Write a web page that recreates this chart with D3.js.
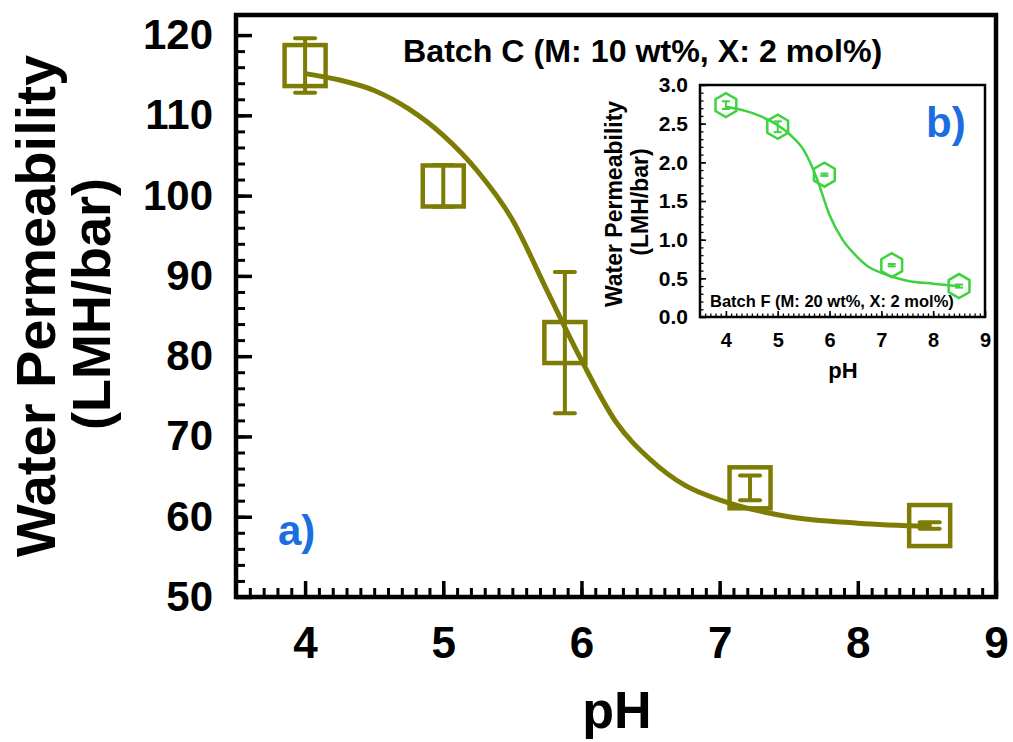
<!DOCTYPE html>
<html>
<head>
<meta charset="utf-8">
<script src="https://cdn.jsdelivr.net/npm/d3@7/dist/d3.min.js"></script>
<style>
  html, body { margin: 0; padding: 0; background: #fff; }
  svg text { font-family: "Liberation Sans", Arial, sans-serif; font-weight: bold; }
</style>
</head>
<body>
<svg id="chart" width="1013" height="742"></svg>
<script>
// ---- Batch C (main panel) ----
const phMain = [4.0, 5.0, 5.88, 7.22, 8.52];
const permMain = [116.2, 101.2, 81.7, 63.6, 58.9];
const errMain = [3.4, 2.6, 8.8, 1.55, 0.4];
// fitted trend line, sampled along pH
const fitPhMain = [4, 4.25, 4.5, 4.75, 5, 5.25, 5.5, 5.75, 6, 6.25, 6.5, 6.75, 7, 7.5, 8, 8.52];
const fitMain = [115.2, 114.4, 113.1, 110.8, 107.5, 103.0, 97.0, 88.2, 79.5, 71.8, 67.1, 63.9, 62.1, 60.0, 59.2, 58.8];
const xTicksMain = [4, 5, 6, 7, 8, 9];
const yTicksMain = [50, 60, 70, 80, 90, 100, 110, 120];

// ---- Batch F (inset) ----
const phInset = [4.0, 5.0, 5.9, 7.2, 8.5];
const permInset = [2.74, 2.46, 1.84, 0.67, 0.40];
const errInset = [0.05, 0.07, 0.015, 0.015, 0.02];
const fitPhInset = [4, 4.5, 5, 5.25, 5.5, 5.75, 6, 6.25, 6.5, 6.75, 7, 7.5, 8, 8.5];
const fitInset = [2.72, 2.64, 2.48, 2.35, 2.16, 1.80, 1.32, 1.00, 0.80, 0.65, 0.57, 0.47, 0.43, 0.40];
const xTicksInset = [4, 5, 6, 7, 8, 9];
const yTicksInset = [0.0, 0.5, 1.0, 1.5, 2.0, 2.5, 3.0];

const olive = "#7d7d05";
const green = "#3fd23f";
const blue = "#1a6ee0";

const svg = d3.select("#chart");
svg.append("rect").attr("width", 1013).attr("height", 742).attr("fill", "#fff");

// ================= main panel =================
const M = { left: 236, right: 996, top: 15, bottom: 597 };
const x = d3.scaleLinear().domain([3.5, 9]).range([M.left, M.right]);
const y = d3.scaleLinear().domain([50, 122.5]).range([M.bottom, M.top]);

const main = svg.append("g");

// minor ticks
main.append("g")
  .attr("transform", `translate(0,${M.bottom})`)
  .call(d3.axisBottom(x).tickValues(d3.range(36, 90, 1).map(v => v / 10)).tickSizeInner(-9).tickSizeOuter(0).tickFormat(""))
  .call(g => g.select(".domain").remove())
  .call(g => g.selectAll("line").attr("stroke", "#000").attr("stroke-width", 3));
main.append("g")
  .attr("transform", `translate(${M.left},0)`)
  .call(d3.axisLeft(y).tickValues(d3.range(52, 122, 2)).tickSizeInner(-9).tickSizeOuter(0).tickFormat(""))
  .call(g => g.select(".domain").remove())
  .call(g => g.selectAll("line").attr("stroke", "#000").attr("stroke-width", 3));

// major ticks with labels
main.append("g")
  .attr("transform", `translate(0,${M.bottom})`)
  .call(d3.axisBottom(x).tickValues(xTicksMain).tickSizeInner(-16).tickSizeOuter(0).tickPadding(30).tickFormat(d3.format("d")))
  .call(g => g.select(".domain").remove())
  .call(g => g.selectAll("line").attr("stroke", "#000").attr("stroke-width", 3.5))
  .call(g => g.selectAll("text").attr("fill", "#000").attr("font-size", 44));
main.append("g")
  .attr("transform", `translate(${M.left},0)`)
  .call(d3.axisLeft(y).tickValues(yTicksMain).tickSizeInner(-16).tickSizeOuter(0).tickPadding(23).tickFormat(d3.format("d")))
  .call(g => g.select(".domain").remove())
  .call(g => g.selectAll("line").attr("stroke", "#000").attr("stroke-width", 3.5))
  .call(g => g.selectAll("text").attr("fill", "#000").attr("font-size", 42));

// frame
main.append("rect")
  .attr("x", M.left).attr("y", M.top)
  .attr("width", M.right - M.left).attr("height", M.bottom - M.top)
  .attr("fill", "none").attr("stroke", "#000").attr("stroke-width", 4.5);

// fitted curve
main.append("path")
  .datum(fitPhMain.map((p, i) => [p, fitMain[i]]))
  .attr("d", d3.line().x(d => x(d[0])).y(d => y(d[1])).curve(d3.curveMonotoneX))
  .attr("fill", "none").attr("stroke", olive).attr("stroke-width", 5);

// error bars
const mainPts = phMain.map((p, i) => ({ p, v: permMain[i], e: errMain[i] }));
const eb = main.append("g").attr("stroke", olive).attr("stroke-width", 4);
eb.selectAll("line.v").data(mainPts).join("line").attr("class", "v")
  .attr("x1", d => x(d.p)).attr("x2", d => x(d.p))
  .attr("y1", d => y(d.v + d.e)).attr("y2", d => y(d.v - d.e));
eb.selectAll("line.t").data(mainPts).join("line").attr("class", "t")
  .attr("x1", d => x(d.p) - 10).attr("x2", d => x(d.p) + 10)
  .attr("y1", d => y(d.v + d.e)).attr("y2", d => y(d.v + d.e)).attr("stroke-linecap", "round");
eb.selectAll("line.b").data(mainPts).join("line").attr("class", "b")
  .attr("x1", d => x(d.p) - 10).attr("x2", d => x(d.p) + 10)
  .attr("y1", d => y(d.v - d.e)).attr("y2", d => y(d.v - d.e)).attr("stroke-linecap", "round");

// open square markers
main.selectAll("rect.pt").data(mainPts).join("rect").attr("class", "pt")
  .attr("x", d => x(d.p) - 20.5).attr("y", d => y(d.v) - 20.5)
  .attr("width", 41).attr("height", 41)
  .attr("fill", "none").attr("stroke", olive).attr("stroke-width", 4.5);

// titles
main.append("text").attr("x", 617).attr("y", 728).attr("text-anchor", "middle")
  .attr("font-size", 52).attr("fill", "#000").text("pH");
main.append("text").attr("transform", "translate(55,306) rotate(-90)").attr("text-anchor", "middle")
  .attr("font-size", 56).attr("fill", "#000").text("Water Permeability");
main.append("text").attr("transform", "translate(110,304) rotate(-90)").attr("text-anchor", "middle")
  .attr("font-size", 54).attr("fill", "#000").text("(LMH/bar)");
main.append("text").attr("x", 403).attr("y", 62)
  .attr("font-size", 32.2).attr("fill", "#000").text("Batch C (M: 10 wt%, X: 2 mol%)");
main.append("text").attr("x", 278).attr("y", 545)
  .attr("font-size", 42).attr("fill", blue).text("a)");

// ================= inset panel =================
const I = { left: 700, right: 985, top: 85, bottom: 317 };
const xi = d3.scaleLinear().domain([3.5, 9]).range([I.left, I.right]);
const yi = d3.scaleLinear().domain([0, 3]).range([I.bottom, I.top]);

const inset = svg.append("g");
inset.append("rect")
  .attr("x", I.left).attr("y", I.top)
  .attr("width", I.right - I.left).attr("height", I.bottom - I.top)
  .attr("fill", "#fff");

inset.append("g")
  .attr("transform", `translate(0,${I.bottom})`)
  .call(d3.axisBottom(xi).tickValues(d3.range(36, 90, 1).map(v => v / 10)).tickSizeInner(-3.5).tickSizeOuter(0).tickFormat(""))
  .call(g => g.select(".domain").remove())
  .call(g => g.selectAll("line").attr("stroke", "#000").attr("stroke-width", 1.3));
inset.append("g")
  .attr("transform", `translate(${I.left},0)`)
  .call(d3.axisLeft(yi).tickValues(d3.range(1, 30, 1).map(v => v / 10)).tickSizeInner(-3.5).tickSizeOuter(0).tickFormat(""))
  .call(g => g.select(".domain").remove())
  .call(g => g.selectAll("line").attr("stroke", "#000").attr("stroke-width", 1.3));
inset.append("g")
  .attr("transform", `translate(0,${I.bottom})`)
  .call(d3.axisBottom(xi).tickValues(xTicksInset).tickSizeInner(-6).tickSizeOuter(0).tickPadding(16).tickFormat(d3.format("d")))
  .call(g => g.select(".domain").remove())
  .call(g => g.selectAll("line").attr("stroke", "#000").attr("stroke-width", 1.6))
  .call(g => g.selectAll("text").attr("fill", "#000").attr("font-size", 20));
inset.append("g")
  .attr("transform", `translate(${I.left},0)`)
  .call(d3.axisLeft(yi).tickValues(yTicksInset).tickSizeInner(-6).tickSizeOuter(0).tickPadding(12).tickFormat(d3.format(".1f")))
  .call(g => g.select(".domain").remove())
  .call(g => g.selectAll("line").attr("stroke", "#000").attr("stroke-width", 1.6))
  .call(g => g.selectAll("text").attr("fill", "#000").attr("font-size", 21));

inset.append("rect")
  .attr("x", I.left).attr("y", I.top)
  .attr("width", I.right - I.left).attr("height", I.bottom - I.top)
  .attr("fill", "none").attr("stroke", "#000").attr("stroke-width", 2.5);

inset.append("path")
  .datum(fitPhInset.map((p, i) => [p, fitInset[i]]))
  .attr("d", d3.line().x(d => xi(d[0])).y(d => yi(d[1])).curve(d3.curveMonotoneX))
  .attr("fill", "none").attr("stroke", green).attr("stroke-width", 2.5);

const insetPts = phInset.map((p, i) => ({ p, v: permInset[i], e: errInset[i] }));
const ebi = inset.append("g").attr("stroke", green).attr("stroke-width", 2);
ebi.selectAll("line.v").data(insetPts).join("line").attr("class", "v")
  .attr("x1", d => xi(d.p)).attr("x2", d => xi(d.p))
  .attr("y1", d => yi(d.v + d.e)).attr("y2", d => yi(d.v - d.e));
ebi.selectAll("line.t").data(insetPts).join("line").attr("class", "t")
  .attr("x1", d => xi(d.p) - 4).attr("x2", d => xi(d.p) + 4)
  .attr("y1", d => yi(d.v + d.e)).attr("y2", d => yi(d.v + d.e));
ebi.selectAll("line.b").data(insetPts).join("line").attr("class", "b")
  .attr("x1", d => xi(d.p) - 4).attr("x2", d => xi(d.p) + 4)
  .attr("y1", d => yi(d.v - d.e)).attr("y2", d => yi(d.v - d.e));

// open hexagon markers (pointed top and bottom)
const hexR = 12;
const hexPath = d3.line()(d3.range(6).map(k => {
  const a = Math.PI / 2 + k * Math.PI / 3;
  return [hexR * Math.cos(a), hexR * Math.sin(a)];
})) + "Z";
inset.selectAll("path.pt").data(insetPts).join("path").attr("class", "pt")
  .attr("d", hexPath)
  .attr("transform", d => `translate(${xi(d.p)},${yi(d.v)})`)
  .attr("fill", "none").attr("stroke", green).attr("stroke-width", 2.5);

inset.append("text").attr("x", 843).attr("y", 378).attr("text-anchor", "middle")
  .attr("font-size", 22).attr("fill", "#000").text("pH");
inset.append("text").attr("transform", "translate(622,204) rotate(-90)").attr("text-anchor", "middle")
  .attr("font-size", 23).attr("fill", "#000").text("Water Permeability");
inset.append("text").attr("transform", "translate(648,202) rotate(-90)").attr("text-anchor", "middle")
  .attr("font-size", 23).attr("fill", "#000").text("(LMH/bar)");
inset.append("text").attr("x", 710).attr("y", 307)
  .attr("font-size", 16.5).attr("fill", "#000").text("Batch F (M: 20 wt%, X: 2 mol%)");
inset.append("text").attr("x", 926).attr("y", 137)
  .attr("font-size", 42).attr("fill", blue).text("b)");
</script>
</body>
</html>
